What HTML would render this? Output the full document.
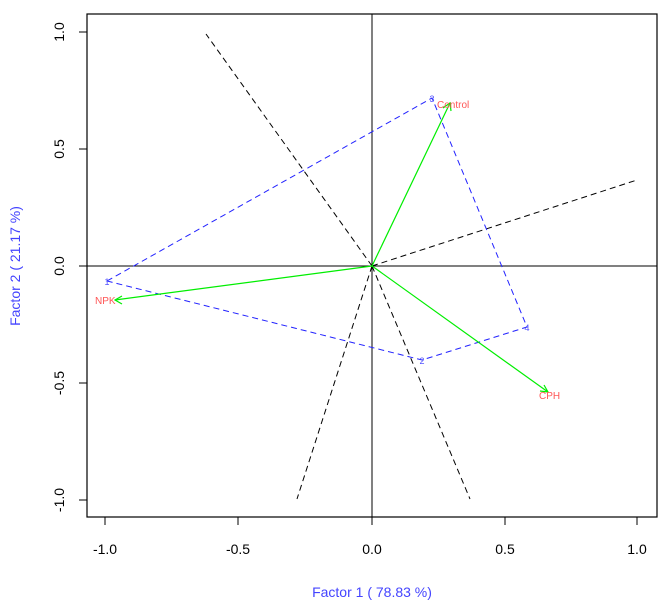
<!DOCTYPE html>
<html><head><style>body{margin:0;background:#fff}svg{display:block}</style></head><body>
<svg width="670" height="604" xmlns="http://www.w3.org/2000/svg" font-family="Liberation Sans, sans-serif">
<rect width="670" height="604" fill="#fff"/>
<rect x="87" y="14" width="570" height="503" fill="none" stroke="#000" stroke-width="1.2"/>
<g stroke="#000" stroke-width="1">
<line x1="105" y1="517" x2="105" y2="525"/><line x1="238" y1="517" x2="238" y2="525"/><line x1="372" y1="517" x2="372" y2="525"/><line x1="505" y1="517" x2="505" y2="525"/><line x1="637" y1="517" x2="637" y2="525"/>
<line x1="79" y1="32" x2="87" y2="32"/><line x1="79" y1="149" x2="87" y2="149"/><line x1="79" y1="266" x2="87" y2="266"/><line x1="79" y1="383" x2="87" y2="383"/><line x1="79" y1="500" x2="87" y2="500"/>
<line x1="87" y1="266" x2="657" y2="266"/><line x1="372" y1="14" x2="372" y2="517"/>
</g>
<g font-size="14" fill="#000" text-anchor="middle">
<text x="105" y="554">-1.0</text><text x="238" y="554">-0.5</text><text x="372" y="554">0.0</text><text x="505" y="554">0.5</text><text x="637" y="554">1.0</text>
<text transform="translate(64,32) rotate(-90)">1.0</text><text transform="translate(64,149) rotate(-90)">0.5</text><text transform="translate(64,266) rotate(-90)">0.0</text><text transform="translate(64,383) rotate(-90)">-0.5</text><text transform="translate(64,500) rotate(-90)">-1.0</text>
</g>
<text x="372" y="597" font-size="14" fill="#4444ff" text-anchor="middle">Factor 1 ( 78.83 %)</text>
<text transform="translate(20,266) rotate(-90)" font-size="14" fill="#4444ff" text-anchor="middle">Factor 2 ( 21.17 %)</text>
<g stroke="#000" stroke-dasharray="6,4" fill="none">
<line x1="372" y1="266" x2="206" y2="34"/><line x1="372" y1="266" x2="470" y2="499"/><line x1="372" y1="266" x2="297" y2="499"/><line x1="372" y1="266" x2="637" y2="180"/>
</g>
<polygon points="107,281 432,98 527,327 422,360" fill="none" stroke="#2222ff" stroke-dasharray="6,4"/>
<g stroke="#00ee00" stroke-width="1.2">
<line x1="372" y1="266" x2="450" y2="103"/><line x1="372" y1="266" x2="115" y2="300"/><line x1="372" y1="266" x2="548" y2="392"/>
<polyline points="443,108 450,103 451,111" fill="none"/><polyline points="122,296 115,300 122,304" fill="none"/><polyline points="540,391 548,392 544,385" fill="none"/>
</g>
<g font-size="9" fill="#5555ff" text-anchor="middle">
<text x="107" y="285">1</text><text x="432" y="102">3</text><text x="527" y="331">4</text><text x="422" y="364">2</text>
</g>
<g font-size="10" fill="#ff5555">
<text x="437" y="108">Control</text><text x="95" y="304">NPK</text><text x="539" y="399">CPH</text>
</g>
</svg>
</body></html>
